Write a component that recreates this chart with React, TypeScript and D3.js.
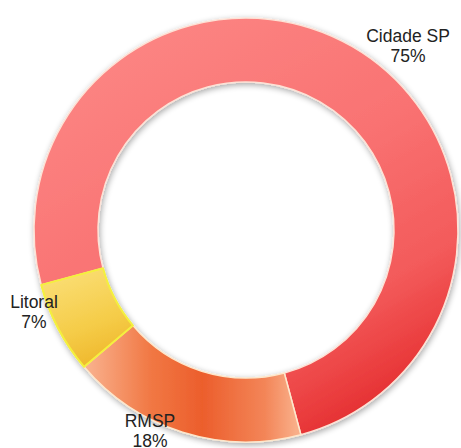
import React from "react";
import * as d3 from "d3";

// share of each region (%)
const labels = ["Cidade SP", "RMSP", "Litoral"];
const values = [75, 18, 7];
const fills = ["url(#gCidade)", "url(#gRmsp)", "url(#gLitoral)"];
const strokes = ["#fde2d6", "#fde7cc", "#f4f03c"];
// label anchor [x, baseline] in px
const labelPos: [number, number][] = [
  [408, 42],
  [150, 427],
  [34, 308],
];

const W = 461;
const H = 448;
const cx = 246;
const cy = 230;
const outerR = 212;
const innerR = 148;
const start = (-105 * Math.PI) / 180;

export default function App() {
  const pie = d3
    .pie<number>()
    .sort(null)
    .value((d) => d)
    .startAngle(start)
    .endAngle(start + 2 * Math.PI);
  const arcs = pie(values);
  const arc = d3.arc<d3.PieArcDatum<number>>().innerRadius(innerR).outerRadius(outerR);

  // gradients are in the ring's own (centred) coordinates
  return (
    <svg
      width={W}
      height={H}
      style={{ position: "absolute", left: 0, top: 0, background: "#fff" }}
      fontFamily="'Liberation Sans', Arial, sans-serif"
    >
      <defs>
        <filter id="shadow" x="-20%" y="-20%" width="140%" height="140%">
          <feGaussianBlur in="SourceAlpha" stdDeviation="3" />
          <feOffset dx="1" dy="2" result="b" />
          <feComponentTransfer>
            <feFuncA type="linear" slope="0.35" />
          </feComponentTransfer>
          <feMerge>
            <feMergeNode />
            <feMergeNode in="SourceGraphic" />
          </feMerge>
        </filter>
        <linearGradient id="gCidade" gradientUnits="userSpaceOnUse" x1={-130} y1={-200} x2={110} y2={210}>
          <stop offset="0" stopColor="#fc8684" />
          <stop offset="0.45" stopColor="#f97272" />
          <stop offset="0.75" stopColor="#f35a5a" />
          <stop offset="0.9" stopColor="#ea3c3d" />
          <stop offset="1" stopColor="#e0282b" />
        </linearGradient>
        <linearGradient id="gRmsp" gradientUnits="userSpaceOnUse" x1={-158} y1={170} x2={50} y2={170}>
          <stop offset="0" stopColor="#f9b08c" />
          <stop offset="0.3" stopColor="#f17844" />
          <stop offset="0.55" stopColor="#ec5e2c" />
          <stop offset="0.85" stopColor="#f38558" />
          <stop offset="1" stopColor="#f9ae88" />
        </linearGradient>
        <linearGradient id="gLitoral" gradientUnits="userSpaceOnUse" x1={-186} y1={35} x2={-146} y2={140}>
          <stop offset="0" stopColor="#fbe07a" />
          <stop offset="0.6" stopColor="#f5cc48" />
          <stop offset="1" stopColor="#eeb428" />
        </linearGradient>
      </defs>
      <g transform={`translate(${cx},${cy})`} filter="url(#shadow)">
        {arcs.map((a, i) => (
          <path
            key={labels[i]}
            d={arc(a) ?? ""}
            fill={fills[i]}
            stroke={strokes[i]}
            strokeWidth={i === 2 ? 2 : 1.5}
            strokeLinejoin="round"
          />
        ))}
      </g>
      {arcs.map((a, i) => (
        <text key={labels[i]} x={labelPos[i][0]} y={labelPos[i][1]} textAnchor="middle" fontSize={17.5} fill="#222">
          <tspan x={labelPos[i][0]}>{labels[i]}</tspan>
          <tspan x={labelPos[i][0]} dy={19.5}>
            {values[i]}%
          </tspan>
        </text>
      ))}
    </svg>
  );
}
